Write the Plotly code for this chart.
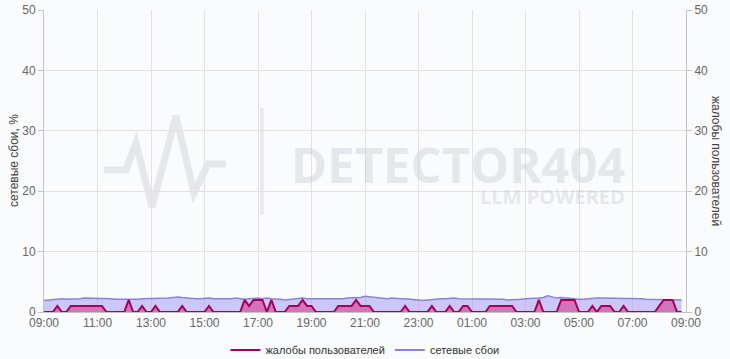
import plotly.graph_objects as go
import pandas as pd

# ---- data (10-minute samples, 09:00 -> 08:50 next day) ----
start_time = "2024-01-01 09:00"
end_time = "2024-01-02 09:00"
times = pd.date_range(start_time, periods=144, freq="10min")

complaints = [
    0, 0, 0, 1, 0, 0, 1, 1, 1, 1, 1, 1, 1, 1, 0, 0, 0, 0, 0, 2,
    0, 0, 1, 0, 0, 1, 0, 0, 0, 0, 0, 1, 0, 0, 0, 0, 0, 1, 0, 0,
    0, 0, 0, 0, 0, 2, 1, 2, 2, 2, 0, 2, 0, 0, 0, 1, 1, 1, 2, 1,
    1, 0, 0, 0, 0, 0, 1, 1, 1, 1, 2, 1, 1, 1, 0, 0, 0, 0, 0, 0,
    0, 1, 0, 0, 0, 0, 0, 1, 0, 0, 0, 1, 0, 0, 1, 1, 0, 0, 0, 0,
    1, 1, 1, 1, 1, 1, 0, 0, 0, 0, 0, 2, 0, 0, 0, 0, 2, 2, 2, 2,
    0, 0, 0, 1, 0, 1, 1, 1, 0, 0, 1, 0, 0, 0, 0, 0, 0, 0, 1, 2,
    2, 2, 0, 0,
]

network = [
    1.9, 2.0, 2.1, 2.2, 2.2, 2.1, 2.1, 2.2, 2.2, 2.3, 2.3, 2.3, 2.3, 2.2, 2.2, 2.2, 2.1, 2.1, 2.0, 2.0,
    2.1, 2.1, 2.2, 2.2, 2.3, 2.3, 2.2, 2.2, 2.3, 2.4, 2.5, 2.4, 2.3, 2.3, 2.2, 2.2, 2.3, 2.3, 2.2, 2.2,
    2.1, 2.1, 2.2, 2.3, 2.2, 2.1, 2.2, 2.3, 2.3, 2.2, 2.3, 2.2, 2.2, 2.1, 2.0, 2.1, 2.2, 2.2, 2.3, 2.2,
    2.2, 2.1, 2.1, 2.2, 2.2, 2.2, 2.1, 2.2, 2.3, 2.3, 2.3, 2.4, 2.6, 2.5, 2.4, 2.3, 2.3, 2.2, 2.3, 2.2,
    2.2, 2.2, 2.1, 2.0, 1.9, 1.9, 2.0, 2.1, 2.2, 2.2, 2.2, 2.3, 2.3, 2.2, 2.2, 2.1, 2.1, 2.1, 2.2, 2.2,
    2.2, 2.2, 2.1, 2.1, 2.0, 2.0, 2.0, 2.1, 2.2, 2.2, 2.2, 2.3, 2.4, 2.7, 2.5, 2.3, 2.4, 2.3, 2.2, 2.2,
    2.1, 2.1, 2.2, 2.2, 2.3, 2.3, 2.3, 2.2, 2.2, 2.3, 2.3, 2.3, 2.2, 2.2, 2.2, 2.1, 2.1, 2.0, 2.1, 2.1,
    2.0, 2.0, 2.0, 2.0,
]

y_ticks = [0, 10, 20, 30, 40, 50]
name_complaints = "жалобы пользователей"
name_network = "сетевые сбои"
title_left = "сетевые сбои, %"
title_right = "жалобы пользователей"

# ---- styling ----
BG = "#fafbfc"
GRID = "#e2e2e2"
AXLINE = "#c4c4c4"
TICKFONT = dict(family="Liberation Sans, Arial, sans-serif", size=12, color="#666666")
C_LINE = "#a3005c"
C_FILL = "rgba(214,92,165,0.78)"
N_LINE = "#8c82d8"
N_FILL = "rgba(165,155,246,0.55)"
WM = "rgba(195,200,210,0.38)"

W, H = 730, 359
ML, MR, MT, MB = 44, 44, 10, 47
PW, PH = W - ML - MR, H - MT - MB


def px(x):
    return (x - ML) / PW


def py(y):
    return (H - MB - y) / PH


fig = go.Figure()

fig.add_trace(go.Scatter(
    x=times, y=network, mode="lines", name=name_network,
    line=dict(color=N_LINE, width=1.5), fill="tozeroy", fillcolor=N_FILL,
    yaxis="y", showlegend=False, hoverinfo="skip",
))
fig.add_trace(go.Scatter(
    x=times, y=complaints, mode="lines", name=name_complaints,
    line=dict(color=C_LINE, width=2), fill="tozeroy", fillcolor=C_FILL,
    yaxis="y2", showlegend=False, hoverinfo="skip",
))
# legend entries (line-only symbols)
fig.add_trace(go.Scatter(x=[None], y=[None], mode="lines", name=name_complaints,
                         line=dict(color=C_LINE, width=2)))
fig.add_trace(go.Scatter(x=[None], y=[None], mode="lines", name=name_network,
                         line=dict(color=N_LINE, width=2)))

# watermark logo
logo_pts = [(104, 170), (126, 170), (136, 143), (152, 207), (176, 116), (194, 193), (208, 164), (226, 164)]
path = "M " + " L ".join(f"{px(a):.4f},{py(b):.4f}" for a, b in logo_pts)
shapes = [
    dict(type="path", path=path, xref="paper", yref="paper", layer="below",
         line=dict(color=WM, width=7)),
    dict(type="line", xref="paper", yref="paper", x0=px(262), x1=px(262), y0=py(108), y1=py(215),
         layer="below", line=dict(color=WM, width=3)),
]

annotations = [
    dict(text="<b>DETECTOR404</b>", xref="paper", yref="paper", x=px(628), y=py(164),
         xanchor="right", yanchor="middle", showarrow=False,
         font=dict(family="Open Sans, sans-serif", size=49, color=WM)),
    dict(text="<b>LLM POWERED</b>", xref="paper", yref="paper", x=px(627), y=py(196),
         xanchor="right", yanchor="middle", showarrow=False,
         font=dict(family="Open Sans, sans-serif", size=20, color=WM)),
    dict(text=title_left, xref="paper", yref="paper", x=px(14), y=0.5, textangle=-90,
         xanchor="center", yanchor="middle", showarrow=False,
         font=dict(family="Liberation Sans, Arial, sans-serif", size=12, color="#444444")),
    dict(text=title_right, xref="paper", yref="paper", x=px(716), y=0.5, textangle=90,
         xanchor="center", yanchor="middle", showarrow=False,
         font=dict(family="Liberation Sans, Arial, sans-serif", size=12, color="#444444")),
]

fig.update_layout(
    width=W, height=H,
    margin=dict(l=ML, r=MR, t=MT, b=MB, pad=0, autoexpand=False),
    paper_bgcolor=BG, plot_bgcolor=BG,
    showlegend=True,
    legend=dict(orientation="h", x=0.5, xanchor="center",
                yref="container", y=(H - 350) / H, yanchor="middle",
                font=dict(family="Liberation Sans, Arial, sans-serif", size=11, color="#333333"),
                bgcolor="rgba(0,0,0,0)", itemwidth=30, tracegroupgap=0),
    xaxis=dict(type="date", range=[start_time, end_time], tick0=start_time, dtick=7200000,
               tickformat="%H:%M", showgrid=True, gridcolor=GRID, gridwidth=1,
               showline=True, linecolor=AXLINE, ticks="", tickfont=TICKFONT,
               zeroline=False, fixedrange=True),
    yaxis=dict(range=[0, 50], tickvals=y_ticks, showgrid=True, gridcolor=GRID,
               showline=True, linecolor=AXLINE, ticks="outside", ticklen=5, tickcolor=AXLINE,
               tickfont=TICKFONT, zeroline=False, fixedrange=True),
    yaxis2=dict(range=[0, 50], tickvals=y_ticks, overlaying="y", side="right", showgrid=False,
                showline=True, linecolor=AXLINE, ticks="outside", ticklen=5, tickcolor=AXLINE,
                tickfont=TICKFONT, zeroline=False, fixedrange=True),
    shapes=shapes,
    annotations=annotations,
)

fig.write_html("out.html", include_plotlyjs=True, config={"displayModeBar": False})
